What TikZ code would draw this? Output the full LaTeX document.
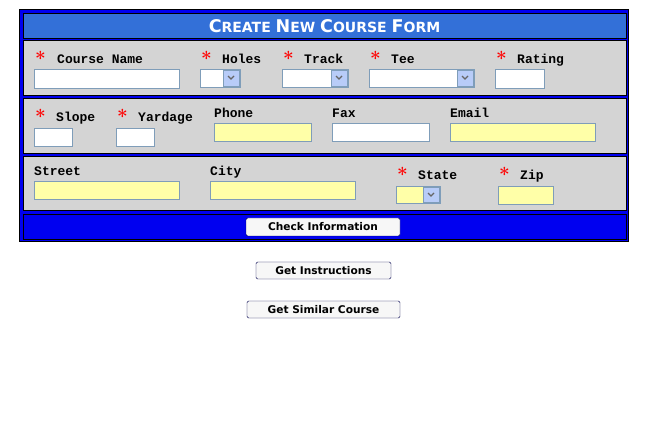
\documentclass[tikz,border=0pt]{standalone}
\usepackage{fontspec}
\newfontfamily\monob{Liberation Mono}
\newfontfamily\uisans{DejaVu Sans}
\usetikzlibrary{positioning}
\definecolor{hdrblue}{HTML}{3370D8}
\definecolor{barblue}{HTML}{0000F0}
\definecolor{rowgray}{HTML}{D4D4D4}
\definecolor{fieldedge}{HTML}{7F9DB9}
\definecolor{fieldyel}{HTML}{FFFFA8}
\definecolor{arrowbox}{HTML}{B8CCF8}
\tikzset{
  lbl/.style={anchor=base west, inner sep=0pt, font=\monob\bfseries\fontsize{13}{14}\selectfont},
  star/.style={anchor=base west, inner sep=0pt, text=red, font=\bfseries\fontsize{19}{19}\selectfont},
  row/.style={draw=black, fill=rowgray, line width=1pt},
  field/.style={draw=fieldedge, fill=white},
  yfield/.style={draw=fieldedge, fill=fieldyel},
  btn/.style={draw=black!70!blue, fill=black!3, rounded corners=1.5pt, inner sep=0pt,
    font=\uisans\bfseries\fontsize{10.6}{12}\selectfont}
}
\newcommand{\selbox}[5]{% x1 y1 x2 y2 fill
  \draw[fieldedge, fill=#5] (#1,#2) rectangle (#3,#4);
  \draw[fieldedge, fill=arrowbox] (#3-17,#2+1) rectangle (#3-1,#4-1);
  \draw[black!60, line width=1.2pt] (#3-12,#2+7) -- (#3-9,#2+10) -- (#3-6,#2+7);
}
\begin{document}
\begin{tikzpicture}[x=1pt, y=-1pt]
  \useasboundingbox[fill=white] (0,0) rectangle (647,427);
  % frame
  \fill[barblue] (19,9) rectangle (629,242);
  \draw[black] (19.5,9.5) rectangle (628.5,241.5);
  \draw[black, fill=hdrblue] (23,13) rectangle (626,38);
  \node (title) at (324.5,26) {\color{white}\uisans\bfseries\fontsize{17.5}{18}\selectfont C\fontsize{14}{18}\selectfont REATE \fontsize{17.5}{18}\selectfont N\fontsize{14}{18}\selectfont EW \fontsize{17.5}{18}\selectfont C\fontsize{14}{18}\selectfont OURSE \fontsize{17.5}{18}\selectfont F\fontsize{14}{18}\selectfont ORM};
  \draw[row] (23,41) rectangle (626,96);
  \draw[row] (23,99) rectangle (626,154);
  \draw[row] (23,157) rectangle (626,211);
  \draw[black, fill=barblue] (23,214) rectangle (626,239);
  % row 1
  \node[star] (s1) at (35,66) {*};  \node[lbl] (course) at (57,64) {Course Name};
  \node[star] (s2) at (201,66) {*}; \node[lbl] (holes) at (222,64) {Holes};
  \node[star] (s3) at (283,66) {*}; \node[lbl] (track) at (304,64) {Track};
  \node[star] (s4) at (370,66) {*}; \node[lbl] (tee) at (391,64) {Tee};
  \node[star] (s5) at (496,66) {*}; \node[lbl] (rating) at (517,64) {Rating};
  \draw[field] (34,69) rectangle (179,88);
  \selbox{200}{69}{240}{87}{white}
  \selbox{282}{69}{348}{87}{white}
  \selbox{369}{69}{474}{87}{white}
  \draw[field] (495,69) rectangle (544,88);
  % row 2
  \node[star] (s6) at (35,124) {*};  \node[lbl] (slope) at (56,122) {Slope};
  \node[star] (s7) at (117,124) {*}; \node[lbl] (yard) at (138,122) {Yardage};
  \node[lbl] (phone) at (214,118) {Phone};
  \node[lbl] (fax) at (332,118) {Fax};
  \node[lbl] (email) at (450,118) {Email};
  \draw[field] (34,128) rectangle (72,146);
  \draw[field] (116,128) rectangle (154,146);
  \draw[yfield] (214,123) rectangle (311,141);
  \draw[field] (332,123) rectangle (429,141);
  \draw[yfield] (450,123) rectangle (595,141);
  % row 3
  \node[lbl] (street) at (34,176) {Street};
  \node[lbl] (city) at (210,176) {City};
  \node[star] (s8) at (397,182) {*}; \node[lbl] (state) at (418,180) {State};
  \node[star] (s9) at (499,182) {*}; \node[lbl] (zip) at (520,180) {Zip};
  \draw[yfield] (34,181) rectangle (179,199);
  \draw[yfield] (210,181) rectangle (355,199);
  \selbox{396}{186}{440}{203}{fieldyel}
  \draw[yfield] (498,186) rectangle (553,204);
  % buttons
  \node[btn, minimum width=154pt, minimum height=18pt] (check) at (323,227) {Check Information};
  \node[btn, minimum width=135pt, minimum height=17pt] (instr) at (323.5,270.5) {Get Instructions};
  \node[btn, minimum width=153pt, minimum height=17pt] (similar) at (323.5,309.5) {Get Similar Course};
\end{tikzpicture}
\end{document}
